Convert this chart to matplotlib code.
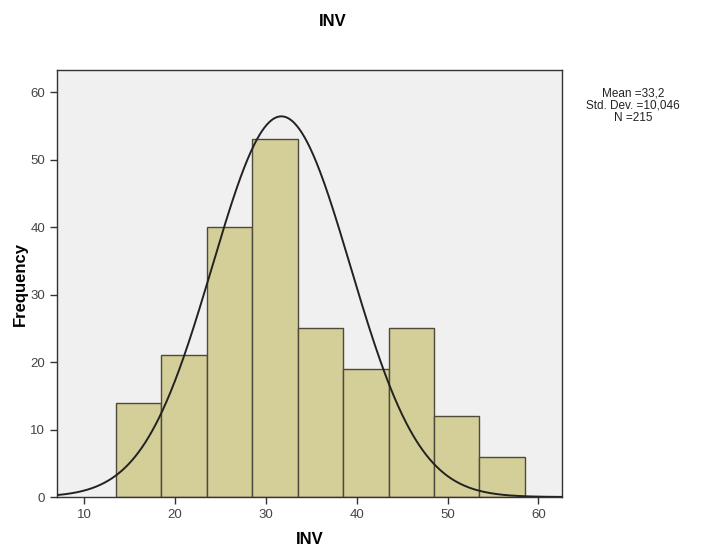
import numpy as np
import matplotlib
matplotlib.use("Agg")
import matplotlib.pyplot as plt

plt.rcParams['font.family'] = ['Liberation Sans', 'DejaVu Sans']

# Histogram of INV: bin edges and counts
bin_edges = [13.5, 18.5, 23.5, 28.5, 33.5, 38.5, 43.5, 48.5, 53.5, 58.5]
counts = [14, 21, 40, 53, 25, 19, 25, 12, 6]

# Fitted normal curve parameters
curve_mean = 31.7
curve_sd = 7.6
n_total = 215
bin_width = 5

stats_lines = ["Mean =33,2", "Std. Dev. =10,046", "N =215"]
x_ticks = [10, 20, 30, 40, 50, 60]
y_ticks = [0, 10, 20, 30, 40, 50, 60]

fig = plt.figure(figsize=(7.05, 5.52), dpi=100)
W, H = 705, 552
ax = fig.add_axes([57 / W, 1 - 497 / H, (562 - 57) / W, (497 - 70) / H])
ax.set_facecolor('#f0f0f0')

lefts = np.array(bin_edges[:-1])
widths = np.diff(bin_edges)
ax.bar(lefts, counts, width=widths, align='edge', color='#d4cf98',
       edgecolor='#4d4a3c', linewidth=1.0, zorder=2)

xs = np.linspace(7.0, 62.6, 600)
ys = n_total * bin_width / (curve_sd * np.sqrt(2 * np.pi)) * np.exp(-0.5 * ((xs - curve_mean) / curve_sd) ** 2)
ax.plot(xs, ys, color='#222222', linewidth=1.4, zorder=3)

ax.set_xlim(7.0, 62.6)
ax.set_ylim(0, 63.3)
ax.set_xticks(x_ticks)
ax.set_yticks(y_ticks)
ax.tick_params(axis='both', direction='out', length=5, width=1, colors='#333333',
               labelsize=9.5, labelcolor='#444444')
for s in ax.spines.values():
    s.set_color('#333333')
    s.set_linewidth(1.0)

ax.set_xlabel('INV', fontsize=12, fontweight='bold', labelpad=8)
ax.set_ylabel('Frequency', fontsize=12, fontweight='bold', labelpad=2)
fig.text(333 / W, 1 - 22 / H, 'INV', ha='center', va='center', fontsize=12, fontweight='bold')

fig.text(633 / W, 1 - 106 / H, "\n".join(stats_lines), ha='center', va='center',
         fontsize=8.5, color='#222222', linespacing=1.0)

fig.savefig('out.png', dpi=100, facecolor='white')
